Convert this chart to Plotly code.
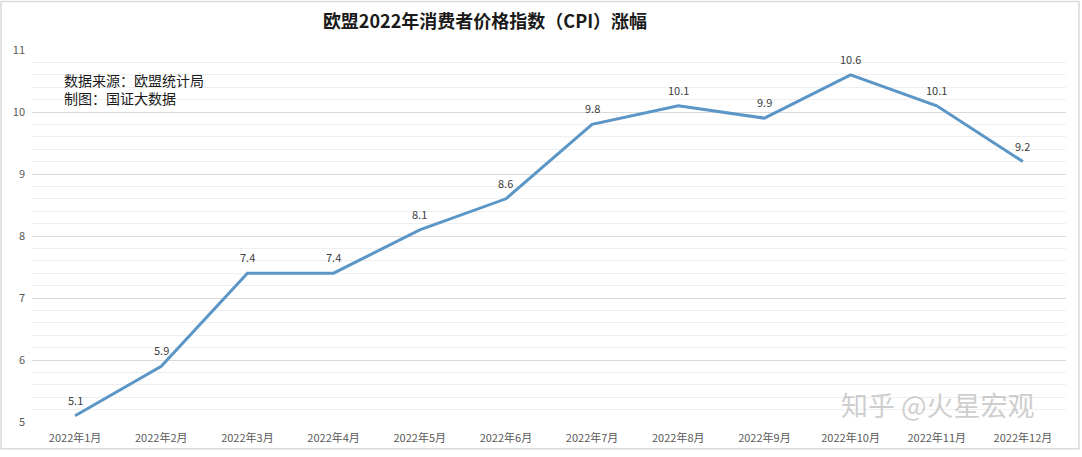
import plotly.graph_objects as go

months = ["2022年1月", "2022年2月", "2022年3月", "2022年4月", "2022年5月", "2022年6月",
          "2022年7月", "2022年8月", "2022年9月", "2022年10月", "2022年11月", "2022年12月"]
cpi = [5.1, 5.9, 7.4, 7.4, 8.1, 8.6, 9.8, 10.1, 9.9, 10.6, 10.1, 9.2]
y_ticks = [5, 6, 7, 8, 9, 10, 11]

W, H = 1082, 457
L, R, T, B = 32, 16, 50, 32
pw, ph = W - L - R, H - T - B

def px(x):
    return (x - L) / pw

def py(y):
    return 1 - (y - T) / ph

CJK = "Noto Sans CJK SC"

fig = go.Figure()
fig.add_trace(go.Scatter(
    x=months, y=cpi, mode="lines",
    line=dict(color="#5b96c6", width=3),
    cliponaxis=False, hoverinfo="x+y",
))

annotations = [
    dict(x=m, y=v, xref="x", yref="y", text=f"{v:g}", showarrow=False,
         yshift=16, xanchor="center", yanchor="middle",
         font=dict(family=CJK, size=11, color="#404040"))
    for m, v in zip(months, cpi)
]
annotations += [
    dict(text="数据来源：欧盟统计局<br>制图：国证大数据", xref="paper", yref="paper",
         x=px(62), y=py(68), xanchor="left", yanchor="top", align="left",
         showarrow=False, font=dict(family=CJK, size=14, color="#1a1a1a")),
    dict(text="知乎 @火星宏观", xref="paper", yref="paper",
         x=px(938), y=py(407), xanchor="center", yanchor="middle",
         showarrow=False, font=dict(family=CJK, size=27, color="rgba(190,190,190,0.75)")),
]

fig.update_layout(
    width=W, height=H,
    margin=dict(l=L, r=R, t=T, b=B),
    paper_bgcolor="white", plot_bgcolor="white",
    showlegend=False,
    font=dict(family=CJK),
    title=dict(text="<b>欧盟2022年消费者价格指数（CPI）涨幅</b>",
               x=485 / W, xanchor="center", y=1 - 22 / H, yanchor="middle",
               font=dict(family=CJK, size=18, color="#1a1a1a")),
    xaxis=dict(showgrid=False, showline=False, zeroline=False, ticks="",
               tickfont=dict(family=CJK, size=11, color="#595959"),
               ticklabelstandoff=8, range=[-0.5, 11.5]),
    yaxis=dict(range=[5, 11], tickvals=y_ticks, showline=False, zeroline=False,
               gridcolor="#d9d9d9", gridwidth=1, ticks="", ticklabelstandoff=6,
               tickfont=dict(family=CJK, size=11, color="#595959"),
               minor=dict(dtick=0.2, showgrid=True, gridcolor="#efefef", gridwidth=1)),
    annotations=annotations,
    shapes=[dict(type="rect", xref="paper", yref="paper",
                 x0=px(1), x1=px(1079), y0=py(452), y1=py(1),
                 line=dict(color="#d9d9d9", width=1.5), layer="below")],
)

fig.write_html("out.html")
